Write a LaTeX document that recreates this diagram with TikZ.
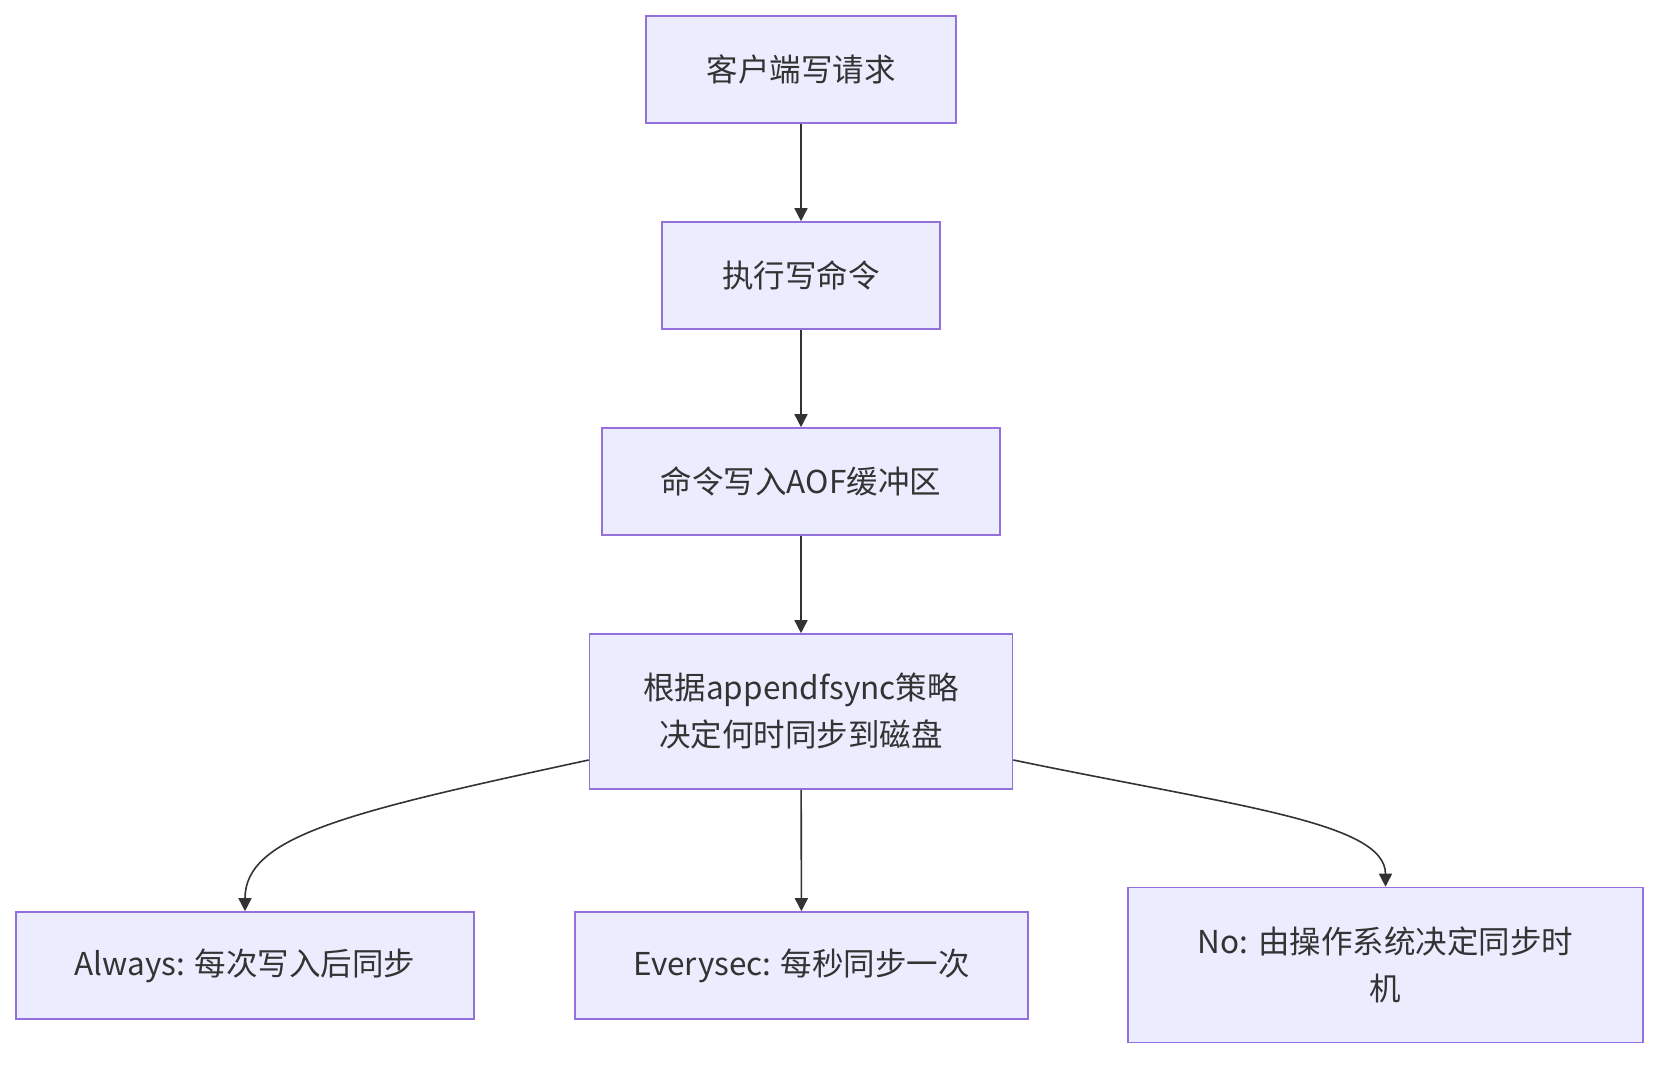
\documentclass[tikz,border=0pt]{standalone}
\usepackage{fontspec}
\setmainfont{Noto Sans CJK SC}
\usetikzlibrary{arrows.meta}
\definecolor{boxfill}{HTML}{ECECFF}
\definecolor{boxline}{HTML}{9370DB}
\definecolor{ink}{HTML}{333333}
\tikzset{
  flowbox/.style={draw=boxline, fill=boxfill, line width=1.6pt, inner sep=0pt,
    align=center, text=ink, font=\fontsize{31.5}{47}\selectfont},
  flowarrow/.style={draw=ink, line width=1.6pt, -{Triangle[width=13pt,length=13pt]}}
}
\begin{document}
\begin{tikzpicture}[x=1pt,y=-1pt]
\useasboundingbox (0,0) rectangle (1674,1068);
\node[flowbox, minimum width=310pt, minimum height=107pt] (a) at (801,69.5) {客户端写请求};
\node[flowbox, minimum width=278pt, minimum height=107pt] (b) at (801,275.5) {执行写命令};
\node[flowbox, minimum width=398pt, minimum height=107pt] (c) at (801,481.5) {命令写入AOF缓冲区};
\node[flowbox, minimum width=423pt, minimum height=155pt] (d) at (801,711.5) {根据appendfsync策略\\决定何时同步到磁盘};
\node[flowbox, minimum width=458pt, minimum height=107pt] (e) at (245,965.5) {Always: 每次写入后同步};
\node[flowbox, minimum width=453pt, minimum height=107pt] (f) at (801.5,965.5) {Everysec: 每秒同步一次};
\node[flowbox, minimum width=515pt, minimum height=155pt] (g) at (1385.5,965) {No: 由操作系统决定同步时\\机};
\draw[flowarrow] (a) -- (b);
\draw[flowarrow] (b) -- (c);
\draw[flowarrow] (c) -- (d);
\draw[flowarrow] (d) -- (f);
\coordinate (dl) at ([yshift=-48.5pt]d.west);
\coordinate (dr) at ([yshift=-48.5pt]d.east);
\draw[flowarrow] (dl) .. controls (348,812) and (245,836) .. (e.north);
\draw[flowarrow] (dr) .. controls (1235,806) and (1385.5,822) .. (g.north);
\end{tikzpicture}
\end{document}
